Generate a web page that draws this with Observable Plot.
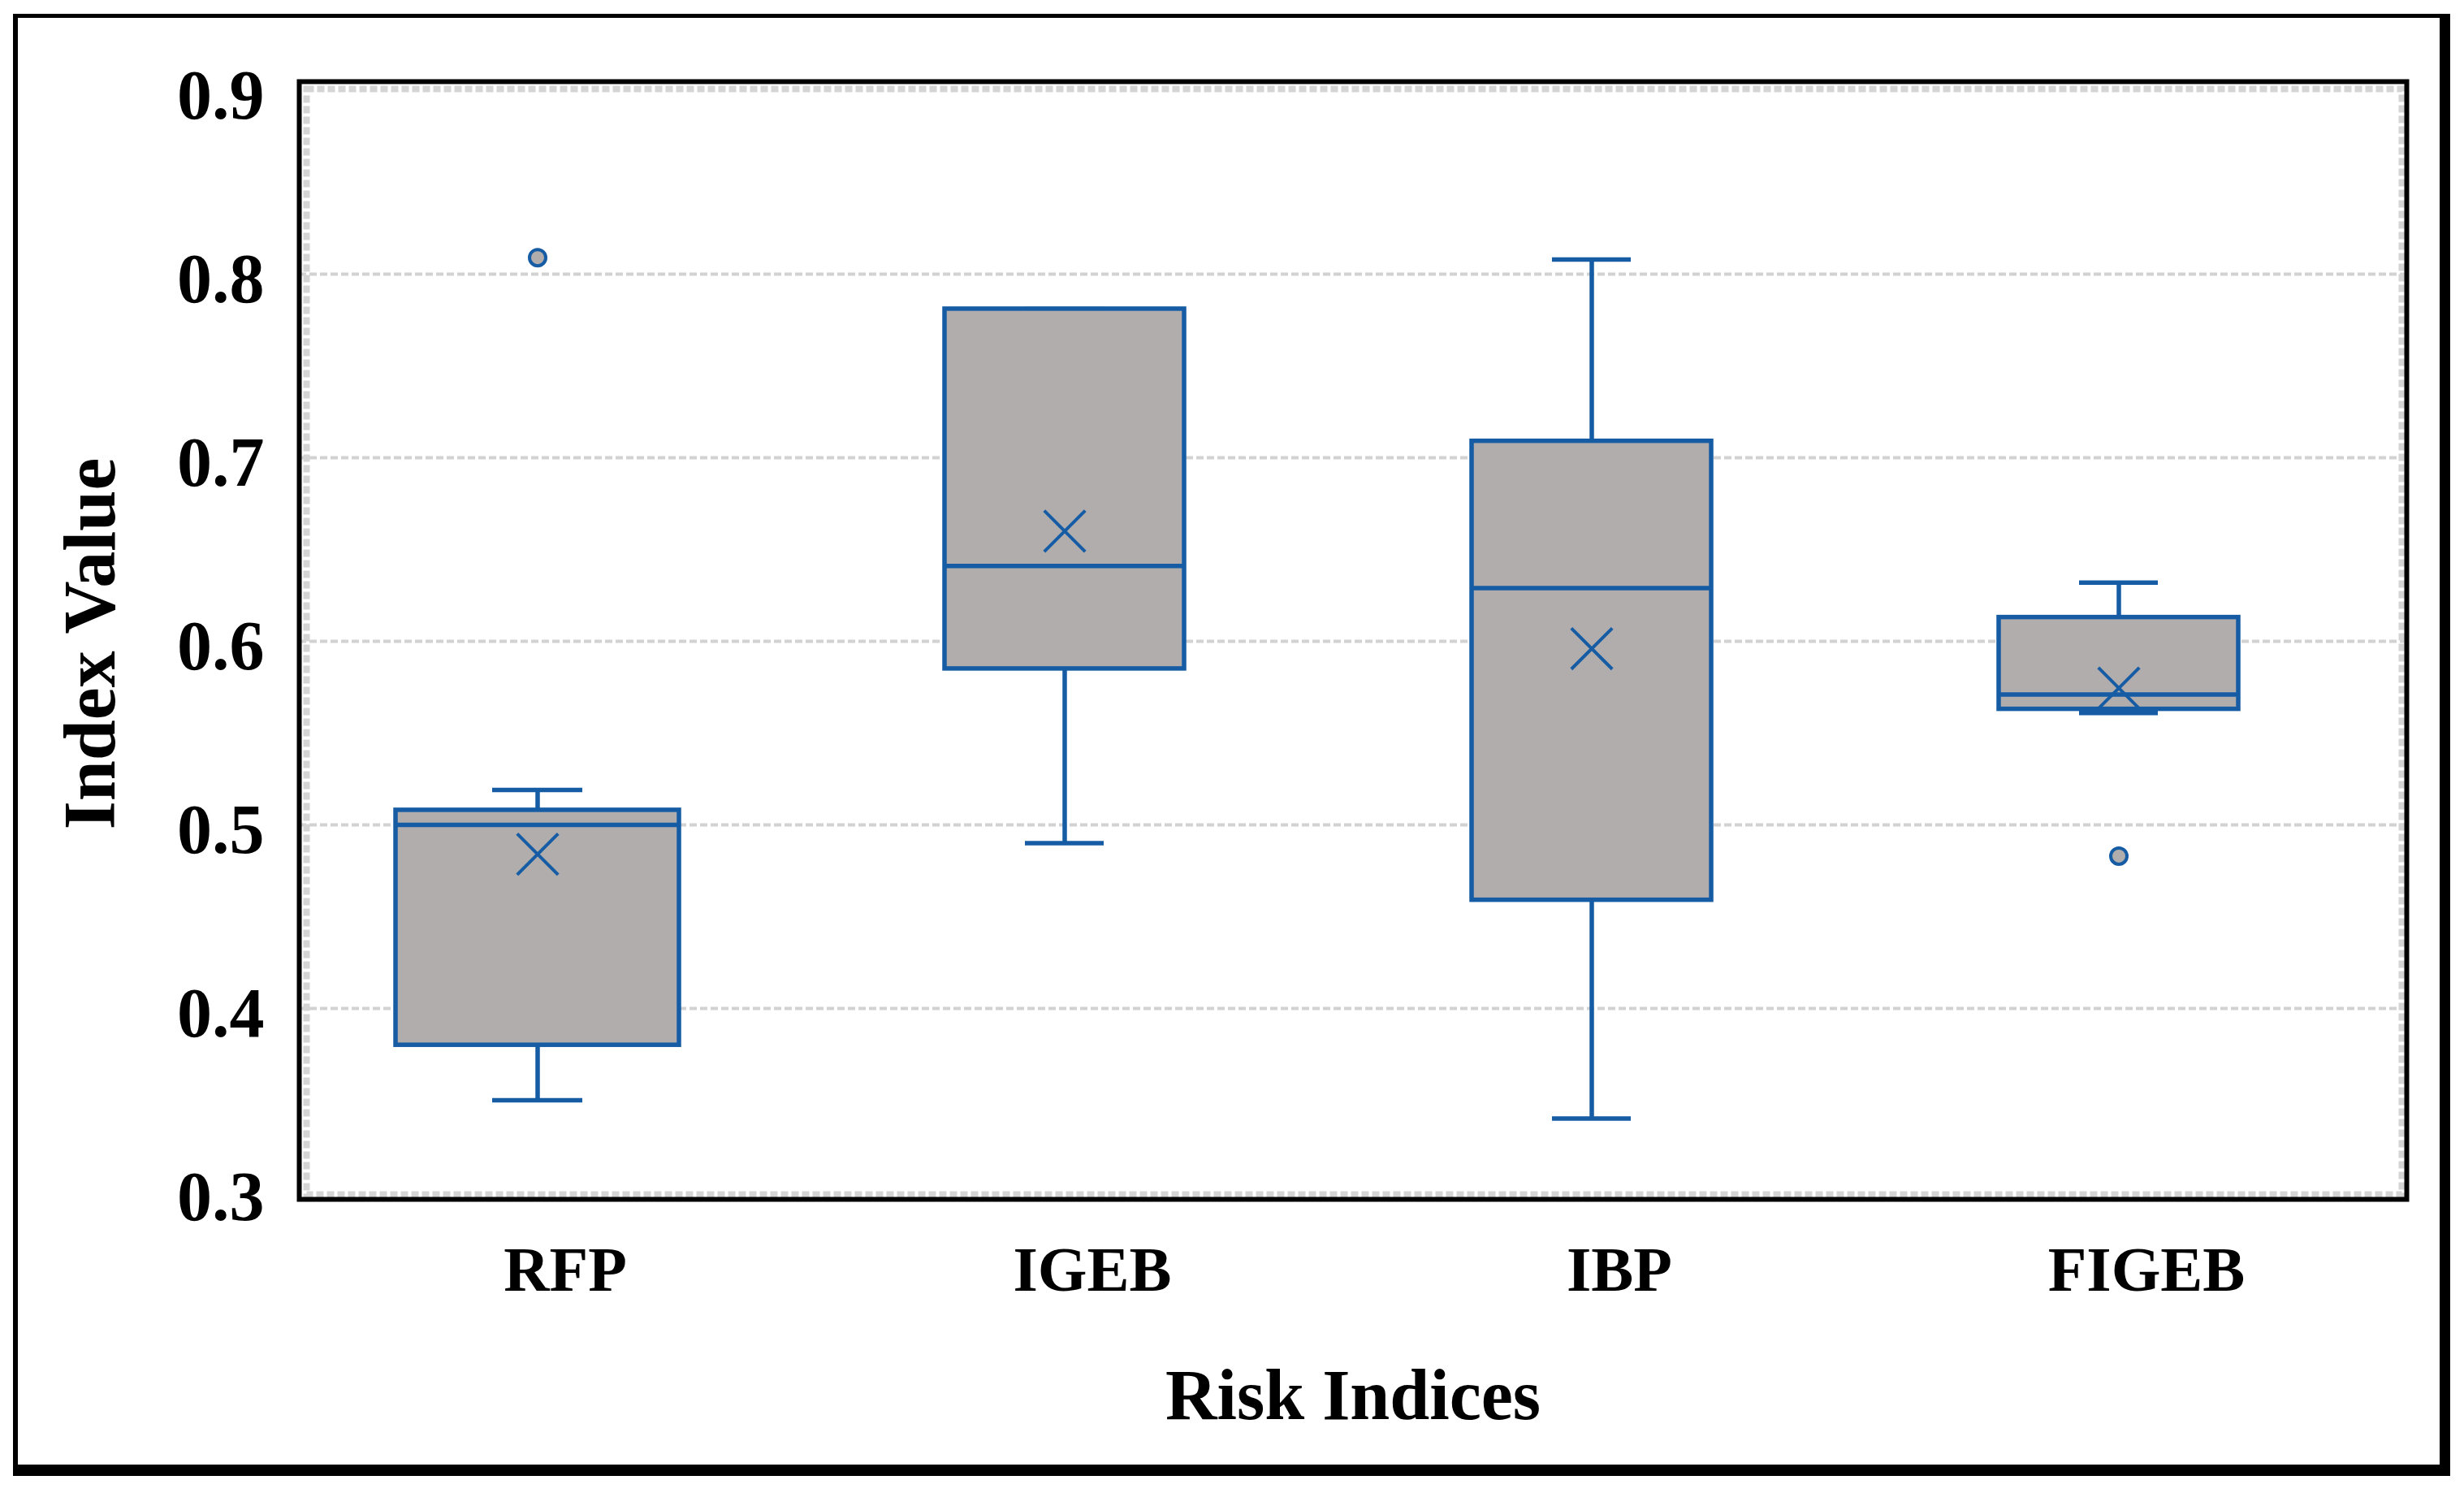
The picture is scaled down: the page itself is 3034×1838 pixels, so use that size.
<!DOCTYPE html>
<html>
<head>
<meta charset="utf-8">
<script src="https://cdn.jsdelivr.net/npm/d3@7"></script>
<script src="https://cdn.jsdelivr.net/npm/@observablehq/plot@0.6"></script>
<style>
  html, body { margin: 0; padding: 0; background: #fff; }
  #wrap { position: relative; width: 3034px; height: 1838px; overflow: hidden; }
  #border { position: absolute; left: 16px; top: 17px; width: 3001px; height: 1800px; box-sizing: border-box;
            border-style: solid; border-color: #000; border-width: 5px 13px 14px 6px; pointer-events: none; }
  #chart { position: absolute; left: 0; top: 0; }
</style>
</head>
<body>
<div id="wrap"><div id="chart"></div><div id="border"></div></div>
<script>
const categories  = ["RFP", "IGEB", "IBP", "FIGEB"];
const whiskerLow  = [0.350, 0.490, 0.340, 0.561];
const q1          = [0.380, 0.585, 0.459, 0.563];
const median      = [0.500, 0.641, 0.629, 0.571];
const q3          = [0.508, 0.781, 0.709, 0.613];
const whiskerHigh = [0.519, 0.781, 0.808, 0.632];
const mean        = [0.484, 0.660, 0.596, 0.5745];
const outlierCats   = ["RFP", "FIGEB"];
const outlierValues = [0.809, 0.483];
const yTicks = [0.3, 0.4, 0.5, 0.6, 0.7, 0.8, 0.9];
const xTitle = "Risk Indices";
const yTitle = "Index Value";

const boxes = categories.map((c, i) => ({cat: c, lo: whiskerLow[i], q1: q1[i], med: median[i], q3: q3[i], hi: whiskerHigh[i], mean: mean[i]}));
const outliers = outlierCats.map((c, i) => ({cat: c, v: outlierValues[i]}));

const BLUE = "#165ca5";
const GREY = "#b0adac";
const SW = 5.5;
const isWide = d => d.cat === "RFP";
const notWide = d => d.cat !== "RFP";

const chart = Plot.plot({
  width: 3034,
  height: 1838,
  marginLeft: 368,
  marginRight: 71,
  marginTop: 111,
  marginBottom: 371,
  style: {fontFamily: "'Liberation Serif', 'Times New Roman', serif", background: "transparent", overflow: "visible", color: "#000"},
  x: {type: "band", domain: categories, range: [514, 2756], paddingInner: 0.5455, paddingOuter: 0, label: null},
  y: {domain: [0.3, 0.9], label: null},
  marks: [
    Plot.gridY([0.4, 0.5, 0.6, 0.7, 0.8], {stroke: "#d2d2d2", strokeOpacity: 1, strokeWidth: 4, strokeDasharray: "9,4"}),
    Plot.frame({stroke: "#d4d4d4", strokeWidth: 8, strokeDasharray: "9,4", insetLeft: 9, insetRight: 6, insetTop: -2, insetBottom: -3}),
    // whiskers
    Plot.ruleX(boxes, {x: "cat", y1: "lo", y2: "hi", stroke: BLUE, strokeWidth: SW}),
    // caps
    Plot.tickY(boxes, {filter: notWide, x: "cat", y: "lo", stroke: BLUE, strokeWidth: SW, insetLeft: 99, insetRight: 99}),
    Plot.tickY(boxes, {filter: notWide, x: "cat", y: "hi", stroke: BLUE, strokeWidth: SW, insetLeft: 99, insetRight: 99}),
    Plot.tickY(boxes, {filter: isWide, x: "cat", y: "lo", stroke: BLUE, strokeWidth: SW, insetLeft: 92, insetRight: 92}),
    Plot.tickY(boxes, {filter: isWide, x: "cat", y: "hi", stroke: BLUE, strokeWidth: SW, insetLeft: 92, insetRight: 92}),
    // boxes
    Plot.barY(boxes, {filter: notWide, x: "cat", y1: "q1", y2: "q3", fill: GREY, stroke: BLUE, strokeWidth: SW}),
    Plot.barY(boxes, {filter: isWide, x: "cat", y1: "q1", y2: "q3", fill: GREY, stroke: BLUE, strokeWidth: SW, insetLeft: -27, insetRight: -27}),
    // medians
    Plot.tickY(boxes, {filter: notWide, x: "cat", y: "med", stroke: BLUE, strokeWidth: SW}),
    Plot.tickY(boxes, {filter: isWide, x: "cat", y: "med", stroke: BLUE, strokeWidth: SW, insetLeft: -27, insetRight: -27}),
    // means
    Plot.dot(boxes, {x: "cat", y: "mean", symbol: "times", r: 23, stroke: BLUE, strokeWidth: 4}),
    // outliers
    Plot.dot(outliers, {x: "cat", y: "v", r: 10, fill: GREY, stroke: BLUE, strokeWidth: 4}),
    // black frame
    Plot.frame({stroke: "#000", strokeWidth: 6, insetTop: -11, insetBottom: -9}),
    // axes
    Plot.axisY(yTicks, {tickSize: 0, tickPadding: 43, fontSize: 86, fontWeight: "bold", tickFormat: d => d.toFixed(1), dy: 7, label: null}),
    Plot.axisX({tickSize: 0, tickPadding: 66, fontSize: 78, fontWeight: "bold", dx: 34, label: null}),
    // titles
    Plot.text([xTitle], {text: d => d, frameAnchor: "bottom", lineAnchor: "bottom", textAnchor: "middle", dy: 279, fontSize: 88, fontWeight: "bold", fill: "#000"}),
    Plot.text([yTitle], {text: d => d, frameAnchor: "left", rotate: -90, lineAnchor: "bottom", textAnchor: "middle", dx: -228, dy: 3, fontSize: 90, fontWeight: "bold", fill: "#000"})
  ]
});
document.getElementById("chart").appendChild(chart);
</script>
</body>
</html>
